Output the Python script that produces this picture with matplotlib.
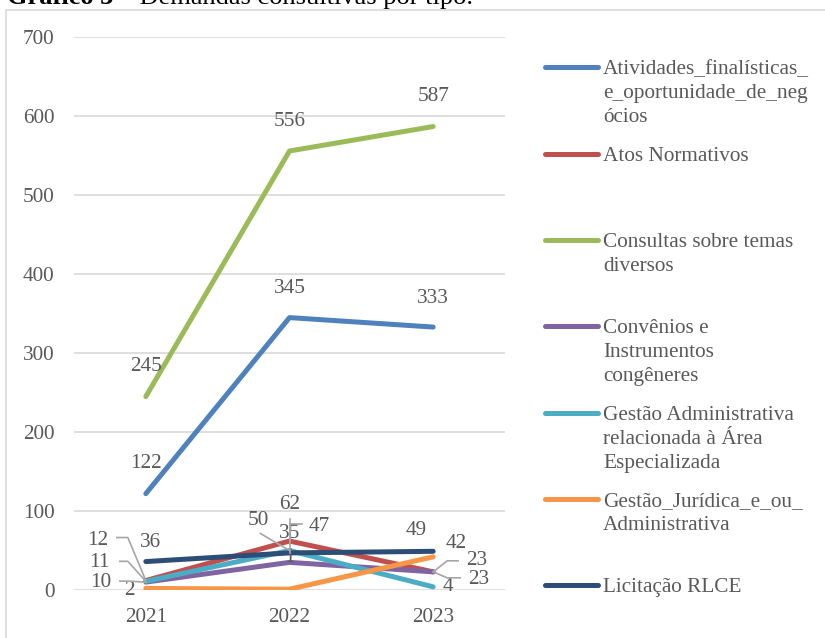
import matplotlib
matplotlib.use("Agg")
import matplotlib.pyplot as plt
from matplotlib.lines import Line2D
from matplotlib.patches import Rectangle
from matplotlib.text import Annotation
from matplotlib.transforms import IdentityTransform
import numpy as np

plt.rcParams["font.family"] = ["Liberation Serif", "DejaVu Serif"]

# ---- data -------------------------------------------------------------
years = ["2021", "2022", "2023"]
series_names = [
    "Atividades_finalísticas_\ne_oportunidade_de_neg\nócios",
    "Atos Normativos",
    "Consultas sobre temas\ndiversos",
    "Convênios e\nInstrumentos\ncongêneres",
    "Gestão Administrativa\nrelacionada à Área\nEspecializada",
    "Gestão_Jurídica_e_ou_\nAdministrativa",
    "Licitação RLCE",
]
atividades = [122, 345, 333]
atos_normativos = [12, 62, 23]
consultas = [245, 556, 587]
convenios = [10, 35, 23]
gestao_adm = [11, 50, 4]
gestao_juridica = [2, 1, 42]
licitacao = [36, 47, 49]
y_ticks = [0, 100, 200, 300, 400, 500, 600, 700]

series_values = [atividades, atos_normativos, consultas, convenios,
                 gestao_adm, gestao_juridica, licitacao]
colors = ["#4F81BD", "#C0504D", "#9BBB59", "#8064A2",
          "#4BACC6", "#F79646", "#2C4D75"]

# data-label offsets in pixels (dx right, dy down) from each point
label_offsets = [
    [(0, -30), (0, -29), (0, -29)],
    [(-48, -40), (0, -37), (44, -11)],
    [(0, -30), (0, -29), (0, -30)],
    [(-45, 0), (0, -29), (46, 8)],
    [(-46, -19), (-31, -30), (15, 0)],
    [(-16, 2), (0, -32), (23, -13)],
    [(5, -19), (30, -26), (-17, -21)],
]
# leader lines: (series, point index, vertices in pixel offsets)
leaders = [
    (1, 0, [(-29, -43), (-18, -43), (0, 0)]),
    (4, 0, [(-26, -20), (-18, -20), (0, 0)]),
    (3, 0, [(-26, -1), (-18, -1), (0, 0)]),
    (4, 1, [(-29, -17), (0, 0)]),
    (1, 1, [(0, -22), (0, 0)]),
    (6, 1, [(12, -29), (0, -29), (0, 0)]),
    (1, 2, [(25, -11), (14, -11), (0, 0)]),
    (3, 2, [(27, 6), (14, 6), (0, 0)]),
]

text_color = "#595959"
grid_color = "#D9D9D9"
fs = 15.3

W, H = 825, 638
fig = plt.figure(figsize=(W / 100, H / 100), dpi=100)

# chart frame
fig.add_artist(Rectangle((6 / W, -0.1), 1.2, (H - 10) / H + 0.1,
                         transform=fig.transFigure, fill=False,
                         edgecolor=grid_color, linewidth=1.2))

# caption above the chart frame
t1 = fig.text(7 / W, (H - 4) / H, "Gráfico 3", fontsize=19,
              fontweight="bold", color="black", va="baseline", ha="left")
ann = Annotation(" – Demandas consultivas por tipo.", xy=(1, 0),
                 xycoords=t1, va="bottom", ha="left", fontsize=19,
                 color="black")
fig.add_artist(ann)

ax = fig.add_axes([74 / W, (H - 590) / H, (505 - 74) / W, (590 - 37.3) / H])
x = np.arange(len(years))

for vals, col in zip(series_values, colors):
    ax.plot(x, vals, color=col, linewidth=3.6, solid_capstyle="round",
            solid_joinstyle="round", zorder=3)

ax.set_xlim(-0.5, len(years) - 0.5)
ax.set_ylim(0, 700)
ax.set_yticks(y_ticks)
ax.set_xticks(x)
ax.set_xticklabels(years)
ax.grid(axis="y", color=grid_color, linewidth=1.2, zorder=0)
ax.set_axisbelow(True)
for s in ax.spines.values():
    s.set_visible(False)
ax.tick_params(axis="both", length=0, labelsize=fs, labelcolor=text_color)
ax.tick_params(axis="y", pad=14)
ax.tick_params(axis="x", pad=13)
ax.patch.set_alpha(0)

# data labels
for vals, offs in zip(series_values, label_offsets):
    for i, (v, (dx, dy)) in enumerate(zip(vals, offs)):
        ax.annotate(str(v), xy=(i, v), xytext=(dx, -dy),
                    textcoords="offset pixels", ha="center", va="center",
                    fontsize=fs, color=text_color, zorder=6)

# leader lines
for si, pi, verts in leaders:
    px, py = ax.transData.transform((pi, series_values[si][pi]))
    xs = [px + dx for dx, dy in verts]
    ys = [py - dy for dx, dy in verts]
    fig.add_artist(Line2D(xs, ys, transform=IdentityTransform(),
                          color="#A6A6A6", linewidth=1.2, zorder=5))

# legend
legend_y = [67, 154, 240, 326, 413, 499, 585]
for name, col, yy in zip(series_names, colors, legend_y):
    fig.add_artist(Line2D([545 / W, 598 / W], [(H - yy) / H] * 2,
                          transform=fig.transFigure, color=col,
                          linewidth=3.6, solid_capstyle="round"))
    for k, line in enumerate(name.split("\n")):
        fig.text(603 / W, (H - yy - 24 * k) / H, line, fontsize=fs,
                 color=text_color, ha="left", va="center_baseline")

fig.savefig("out.png", dpi=100)
